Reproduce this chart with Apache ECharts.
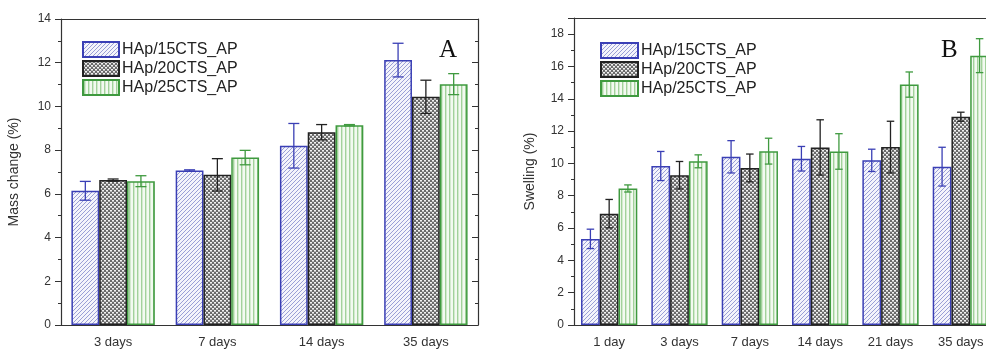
<!DOCTYPE html>
<html>
<head>
<meta charset="utf-8">
<script src="https://cdn.jsdelivr.net/npm/echarts@6/dist/echarts.min.js"></script>
<style>
  html, body { margin: 0; padding: 0; background: #fff; overflow: hidden; }
  /* panel B runs past the right edge in the original, so the canvas is a bit wider than the window */
  #chart { width: 1000px; height: 349px; }
</style>
</head>
<body>
<div id="chart"></div>
<script>
// panel A - mass change
const catsA = ['3 days', '7 days', '14 days', '35 days']
const massHAp15 = [6.14, 7.07, 8.20, 12.12]
const massHAp15Err = [0.43, 0.03, 1.02, 0.77]
const massHAp20 = [6.63, 6.87, 8.82, 10.44]
const massHAp20Err = [0.05, 0.74, 0.35, 0.76]
const massHAp25 = [6.58, 7.66, 9.14, 11.02]
const massHAp25Err = [0.25, 0.33, 0.03, 0.48]

// panel B - swelling
const catsB = ['1 day', '3 days', '7 days', '14 days', '21 days', '35 days']
const swHAp15 = [5.33, 9.84, 10.41, 10.29, 10.19, 9.80]
const swHAp15Err = [0.60, 0.90, 1.00, 0.76, 0.69, 1.20]
const swHAp20 = [6.89, 9.27, 9.72, 10.99, 11.01, 12.89]
const swHAp20Err = [0.88, 0.85, 0.86, 1.71, 1.60, 0.28]
const swHAp25 = [8.45, 10.13, 10.76, 10.74, 14.88, 16.67]
const swHAp25Err = [0.22, 0.40, 0.80, 1.10, 0.78, 1.05]

const names = ['HAp/15CTS_AP', 'HAp/20CTS_AP', 'HAp/25CTS_AP']
const edgeColors = ['#3a3fb5', '#222222', '#3f9a3f']

// little canvas tiles for the hatch fills
function makeTile(w, h, draw) {
    const c = document.createElement('canvas')
    c.width = w
    c.height = h
    draw(c.getContext('2d'))
    return c
}
const diagTile = makeTile(4, 4, ctx => {
    ctx.fillStyle = '#f4f4fb'
    ctx.fillRect(0, 0, 4, 4)
    ctx.strokeStyle = '#9a9fd6'
    ctx.lineWidth = 1
    ctx.beginPath()
    ctx.moveTo(-1, 5); ctx.lineTo(5, -1)
    ctx.moveTo(-1, 1); ctx.lineTo(1, -1)
    ctx.moveTo(3, 5); ctx.lineTo(5, 3)
    ctx.stroke()
})
const checkTile = makeTile(4, 4, ctx => {
    ctx.fillStyle = '#6a6a6a'
    ctx.fillRect(0, 0, 4, 4)
    ctx.fillStyle = '#f2f2f2'
    ctx.fillRect(0, 0, 2, 1.6)
    ctx.fillRect(2, 2, 2, 1.6)
})
const vertTile = makeTile(4, 4, ctx => {
    ctx.fillStyle = '#f3faf1'
    ctx.fillRect(0, 0, 4, 4)
    ctx.fillStyle = '#a2d19b'
    ctx.fillRect(1, 0, 1.4, 4)
})
const fills = [
    { image: diagTile, repeat: 'repeat' },
    { image: checkTile, repeat: 'repeat' },
    { image: vertTile, repeat: 'repeat' },
]

const fontSans = 'Liberation Sans, Arial, sans-serif'

function axesFor(gi, cats, yMax, yName, nameGap) {
    const xs = [
        // bottom, ticks at centre + labels
        {
            type: 'category', gridIndex: gi, data: cats, position: 'bottom',
            axisLine: { lineStyle: { color: '#333', width: 1.2 } },
            axisTick: { alignWithLabel: true, length: 5, lineStyle: { color: '#333' } },
            axisLabel: { color: '#333', fontSize: 13, fontFamily: fontSans, margin: 11 },
        },
        // bottom, boundary ticks
        {
            type: 'category', gridIndex: gi, data: cats, position: 'bottom',
            axisLine: { show: false },
            axisTick: { length: 3, lineStyle: { color: '#333' } },
            axisLabel: { show: false },
        },
        // top frame
        {
            type: 'category', gridIndex: gi, data: cats, position: 'top',
            axisLine: { lineStyle: { color: '#333', width: 1.2 } },
            axisTick: { alignWithLabel: true, inside: true, length: 5, lineStyle: { color: '#333' } },
            axisLabel: { show: false },
        },
        {
            type: 'category', gridIndex: gi, data: cats, position: 'top',
            axisLine: { show: false },
            axisTick: { inside: true, length: 3, lineStyle: { color: '#333' } },
            axisLabel: { show: false },
        },
    ]
    const ys = [
        {
            type: 'value', gridIndex: gi, min: 0, max: yMax, interval: 2, position: 'left',
            name: yName, nameLocation: 'middle', nameGap: nameGap, nameRotate: 90,
            nameTextStyle: { color: '#333', fontSize: 14, fontFamily: fontSans },
            splitLine: { show: false },
            axisLine: { show: true, lineStyle: { color: '#333', width: 1.2 } },
            axisTick: { show: true, length: 6, lineStyle: { color: '#333' } },
            minorTick: { show: true, splitNumber: 2, length: 3, lineStyle: { color: '#333' } },
            axisLabel: { color: '#333', fontSize: 12, fontFamily: fontSans, margin: 10, showMaxLabel: yMax % 2 === 0 },
        },
        {
            type: 'value', gridIndex: gi, min: 0, max: yMax, interval: 2, position: 'right',
            splitLine: { show: false },
            axisLine: { show: true, lineStyle: { color: '#333', width: 1.2 } },
            axisTick: { show: true, inside: true, length: 6, lineStyle: { color: '#333' } },
            minorTick: { show: true, splitNumber: 2, length: 3, lineStyle: { color: '#333' } },
            axisLabel: { show: false },
        },
    ]
    return { xs, ys }
}

function errRender(k) {
    return function (params, api) {
        const band = api.size([1, 0])[0]
        const barW = band * 0.8 / 3
        const cx = api.coord([api.value(0), 0])[0] + (k - 1) * barW
        const v = api.value(1), e = api.value(2)
        const yHi = api.coord([api.value(0), v + e])[1]
        const yLo = api.coord([api.value(0), v - e])[1]
        const cap = Math.min(11, barW * 0.4)
        const style = { stroke: edgeColors[k], lineWidth: 1.3 }
        return {
            type: 'group',
            children: [
                { type: 'line', shape: { x1: cx, y1: yHi, x2: cx, y2: yLo }, style },
                { type: 'line', shape: { x1: cx - cap / 2, y1: yHi, x2: cx + cap / 2, y2: yHi }, style },
                { type: 'line', shape: { x1: cx - cap / 2, y1: yLo, x2: cx + cap / 2, y2: yLo }, style },
            ],
        }
    }
}

function seriesFor(axisBase, vals, errs) {
    const out = []
    vals.forEach((arr, k) => {
        out.push({
            name: names[k], type: 'bar',
            xAxisIndex: axisBase.x, yAxisIndex: axisBase.y,
            data: arr,
            barGap: '0%', barCategoryGap: '20%',
            itemStyle: { color: fills[k], borderColor: edgeColors[k], borderWidth: 1.5 },
        })
    })
    vals.forEach((arr, k) => {
        out.push({
            name: names[k] + ' err', type: 'custom',
            xAxisIndex: axisBase.x, yAxisIndex: axisBase.y,
            data: arr.map((v, i) => [i, v, errs[k][i]]),
            renderItem: errRender(k), z: 10,
        })
    })
    return out
}

const aA = axesFor(0, catsA, 14, 'Mass change (%)', 40)
const aB = axesFor(1, catsB, 19, 'Swelling (%)', 37)

const letterStyle = { fontFamily: 'Liberation Serif, DejaVu Serif, serif', fontSize: 25, fontWeight: 'normal', color: '#111' }
const legendText = { fontSize: 16, fontFamily: fontSans, color: '#222', padding: [0, 0, 0, -2] }

const option = {
    backgroundColor: '#fff',
    animation: false,
    title: [
        { text: 'A', left: 434, top: 33, textStyle: letterStyle },
        { text: 'B', left: 936, top: 33, textStyle: letterStyle },
    ],
    legend: [
        {
            data: names, orient: 'vertical', left: 77, top: 36, itemWidth: 36, itemHeight: 15, itemGap: 2,
            icon: 'rect', selectedMode: false, textStyle: legendText,
        },
        {
            data: names, orient: 'vertical', left: 595, top: 37, itemWidth: 37, itemHeight: 15, itemGap: 2,
            icon: 'rect', selectedMode: false, textStyle: legendText,
        },
    ],
    grid: [
        { left: 61, top: 19, width: 417, height: 308 },
        { left: 574, top: 18, width: 422, height: 309 },
    ],
    xAxis: aA.xs.concat(aB.xs),
    yAxis: aA.ys.concat(aB.ys),
    series: seriesFor({ x: 0, y: 0 },
        [massHAp15, massHAp20, massHAp25],
        [massHAp15Err, massHAp20Err, massHAp25Err])
        .concat(seriesFor({ x: 4, y: 2 },
            [swHAp15, swHAp20, swHAp25],
            [swHAp15Err, swHAp20Err, swHAp25Err])),
}

const chart = echarts.init(document.getElementById('chart'))
chart.setOption(option)

window.addEventListener('resize', () => {
    chart.resize()
})
</script>
</body>
</html>
